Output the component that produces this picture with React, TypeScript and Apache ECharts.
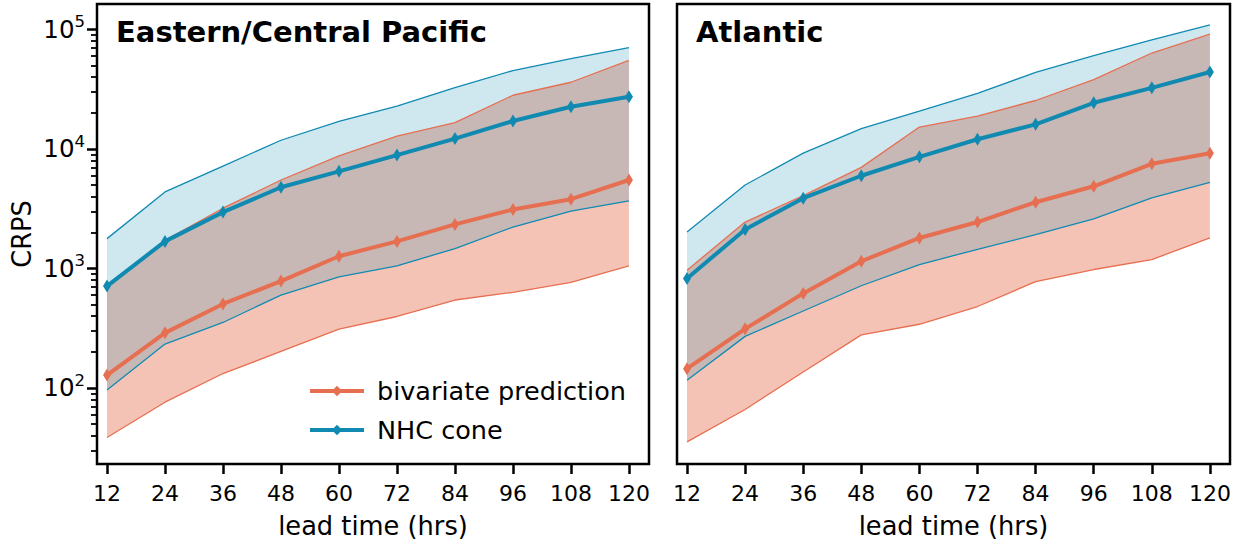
import React, { useEffect, useRef } from 'react';
import * as echarts from 'echarts';

const leadTimes = [12, 24, 36, 48, 60, 72, 84, 96, 108, 120];

// Eastern/Central Pacific
const epBivMean = [128, 289, 504, 783, 1264, 1683, 2333, 3109, 3793, 5490];
const epBivLow = [38.5, 76, 132, 202, 310, 396, 544, 631, 763, 1051];
const epBivHigh = [690, 1720, 3190, 5490, 8750, 12800, 16600, 28100, 36100, 55000];
const epNhcMean = [711, 1683, 2958, 4774, 6490, 8870, 12200, 17100, 22500, 27300];
const epNhcLow = [96, 233, 353, 598, 851, 1051, 1465, 2218, 3015, 3672];
const epNhcHigh = [1775, 4365, 7180, 11810, 17000, 22800, 32600, 45200, 56800, 70200];

// Atlantic
const alBivMean = [145, 312, 618, 1148, 1798, 2443, 3580, 4865, 7500, 9210];
const alBivLow = [35.4, 66, 136, 278, 341, 480, 774, 979, 1186, 1798];
const alBivHigh = [966, 2443, 4064, 7000, 15240, 18820, 25400, 38000, 63400, 91200];
const alNhcMean = [824, 2120, 3868, 5960, 8580, 12040, 16050, 24300, 32400, 44000];
const alNhcLow = [116, 270, 440, 716, 1077, 1445, 1914, 2600, 3890, 5250];
const alNhcHigh = [2015, 4990, 9210, 14800, 20700, 29100, 43700, 60200, 81800, 109000];

const majorTicks = [100, 1000, 10000, 100000];
const minorTicks = [
  30, 40, 50, 60, 70, 80, 90,
  200, 300, 400, 500, 600, 700, 800, 900,
  2000, 3000, 4000, 5000, 6000, 7000, 8000, 9000,
  20000, 30000, 40000, 50000, 60000, 70000, 80000, 90000,
];

const panelTitles = ['Eastern/Central Pacific', 'Atlantic'];
const seriesNames = ['bivariate prediction', 'NHC cone'];

const RED = '#e76f51';
const BLUE = '#118ab2';
const RED_FILL = 'rgba(231,111,81,0.42)';
const BLUE_FILL = 'rgba(17,138,178,0.2)';
const FONT = 'DejaVu Sans';

const Y_MIN = 23.1;
const Y_MAX = 163000;
const X_MIN = 9.93;
const X_MAX = 124.15;

function pairs(vals: number[]) {
  return leadTimes.map((t, i) => [t, vals[i]]);
}

function band(low: number[], high: number[], fill: string, xi: number, yi: number) {
  return {
    type: 'custom',
    xAxisIndex: xi,
    yAxisIndex: yi,
    silent: true,
    z: 1,
    data: [[leadTimes[0], low[0]]],
    renderItem: (_params: any, api: any) => {
      const pts: number[][] = [];
      leadTimes.forEach((t, i) => pts.push(api.coord([t, high[i]])));
      for (let i = leadTimes.length - 1; i >= 0; i--) pts.push(api.coord([leadTimes[i], low[i]]));
      return { type: 'polygon', shape: { points: pts }, style: { fill, stroke: 'none' } };
    },
  };
}

function edge(vals: number[], color: string, xi: number, yi: number) {
  return {
    type: 'line',
    xAxisIndex: xi,
    yAxisIndex: yi,
    data: pairs(vals),
    showSymbol: false,
    silent: true,
    z: 2,
    lineStyle: { color, width: 1.3 },
    itemStyle: { color },
  };
}

function main(name: string, vals: number[], color: string, xi: number, yi: number) {
  return {
    type: 'line',
    name,
    xAxisIndex: xi,
    yAxisIndex: yi,
    data: pairs(vals),
    symbol: 'diamond',
    symbolSize: [8, 13],
    showSymbol: true,
    z: 3,
    lineStyle: { color, width: 4 },
    itemStyle: { color },
  };
}

export default function App() {
  const ref = useRef<HTMLDivElement>(null);
  useEffect(() => {
    if (!ref.current) return;
    const chart = echarts.init(ref.current, undefined, { renderer: 'svg' });
    const xAxisBase = (g: number) => ({
      type: 'value',
      gridIndex: g,
      min: X_MIN,
      max: X_MAX,
      splitLine: { show: false },
      axisLine: { show: false },
      axisTick: {
        show: true,
        customValues: leadTimes,
        length: 10,
        lineStyle: { color: '#000', width: 2.5 },
      },
      axisLabel: {
        customValues: leadTimes,
        fontSize: 22,
        color: '#000',
        margin: 18,
        fontFamily: FONT,
      },
      name: 'lead time (hrs)',
      nameLocation: 'middle',
      nameGap: 49,
      nameTextStyle: { fontSize: 25.7, color: '#000', fontFamily: FONT },
    });
    const option: any = {
      animation: false,
      textStyle: { fontFamily: FONT },
      grid: [
        { left: 97, top: 4, width: 552, height: 462, show: true, borderColor: '#000', borderWidth: 2.5, backgroundColor: 'transparent' },
        { left: 677, top: 4, width: 553, height: 462, show: true, borderColor: '#000', borderWidth: 2.5, backgroundColor: 'transparent' },
      ],
      xAxis: [xAxisBase(0), xAxisBase(1)],
      yAxis: [
        {
          type: 'log',
          logBase: 10,
          gridIndex: 0,
          position: 'left',
          min: Y_MIN,
          max: Y_MAX,
          splitLine: { show: false },
          axisLine: { show: false },
          axisTick: { show: true, customValues: majorTicks, length: 10, lineStyle: { color: '#000', width: 2.5 } },
          axisLabel: {
            customValues: majorTicks,
            margin: 12,
            color: '#000',
            formatter: (v: number) => {
              const e = String(Math.round(Math.log10(v)));
              return '{b|10}{s|' + e + '}';
            },
            rich: {
              b: { fontSize: 24.5, lineHeight: 32, fontFamily: FONT, color: '#000' },
              s: { fontSize: 16.5, lineHeight: 16, verticalAlign: 'top', fontFamily: FONT, color: '#000' },
            },
          },
          name: 'CRPS',
          nameLocation: 'middle',
          nameGap: 62,
          nameTextStyle: { fontSize: 25.7, color: '#000', fontFamily: FONT },
        },
        {
          type: 'log',
          logBase: 10,
          gridIndex: 0,
          position: 'left',
          offset: 0,
          min: Y_MIN,
          max: Y_MAX,
          splitLine: { show: false },
          axisLine: { show: false },
          axisLabel: { show: false },
          axisTick: { show: true, customValues: minorTicks, length: 6, lineStyle: { color: '#000', width: 1.8 } },
        },
        {
          type: 'log',
          logBase: 10,
          gridIndex: 1,
          min: Y_MIN,
          max: Y_MAX,
          splitLine: { show: false },
          axisLine: { show: false },
          axisLabel: { show: false },
          axisTick: { show: false },
        },
      ],
      legend: {
        data: seriesNames,
        orient: 'vertical',
        left: 303,
        top: 373,
        itemWidth: 54,
        itemHeight: 13,
        itemGap: 13,
        selectedMode: false,
        lineStyle: { width: 4 },
        textStyle: { fontSize: 25.5, color: '#000', fontFamily: FONT, padding: [0, 0, 0, 8] },
      },
      graphic: [
        { type: 'text', left: 116, top: 17, z: 100, style: { text: panelTitles[0], font: 'bold 29px "DejaVu Sans"', fill: '#000' } },
        { type: 'text', left: 696, top: 17, z: 100, style: { text: panelTitles[1], font: 'bold 29px "DejaVu Sans"', fill: '#000' } },
      ],
      series: [
        band(epBivLow, epBivHigh, RED_FILL, 0, 0),
        band(epNhcLow, epNhcHigh, BLUE_FILL, 0, 0),
        edge(epBivLow, RED, 0, 0),
        edge(epBivHigh, RED, 0, 0),
        edge(epNhcLow, BLUE, 0, 0),
        edge(epNhcHigh, BLUE, 0, 0),
        main(seriesNames[0], epBivMean, RED, 0, 0),
        main(seriesNames[1], epNhcMean, BLUE, 0, 0),
        band(alBivLow, alBivHigh, RED_FILL, 1, 2),
        band(alNhcLow, alNhcHigh, BLUE_FILL, 1, 2),
        edge(alBivLow, RED, 1, 2),
        edge(alBivHigh, RED, 1, 2),
        edge(alNhcLow, BLUE, 1, 2),
        edge(alNhcHigh, BLUE, 1, 2),
        main(seriesNames[0], alBivMean, RED, 1, 2),
        main(seriesNames[1], alNhcMean, BLUE, 1, 2),
      ],
    };
    chart.setOption(option);
    return () => chart.dispose();
  }, []);
  return (
    <div
      ref={ref}
      style={{ position: 'fixed', left: 0, top: 0, width: 1243, height: 544, background: '#fff' }}
    />
  );
}
